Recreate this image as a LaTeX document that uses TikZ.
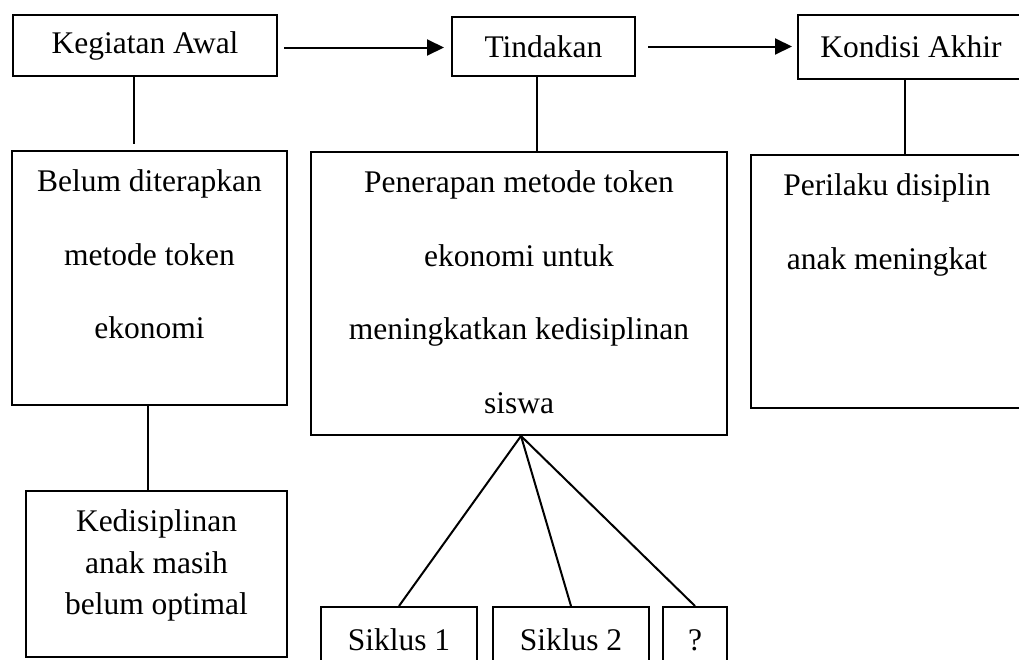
\documentclass[tikz,border=0pt]{standalone}
\usepackage{fontspec}
\setmainfont{Liberation Serif}
\usepackage{tikz}
\usetikzlibrary{arrows.meta,positioning}
\tikzset{
  kotak/.style={draw,line width=2pt,inner sep=0pt},
  isi/.style={anchor=north,align=center,inner sep=0pt},
  garis/.style={line width=2pt},
  panah/.style={line width=2pt,-{Triangle[length=17pt,width=16pt]}},
  every node/.style={font=\fontsize{31.5}{73.5}\selectfont}
}

\begin{document}
\begin{tikzpicture}[x=1pt,y=-1pt,line cap=butt,line join=miter]
  % ---- drawing window (pixel grid of the screenshot) ----
  \useasboundingbox (0,0) rectangle (1019,659);
  \clip (0,0) rectangle (1019,659);

  % ---- top row ----
  \node[kotak,minimum width=264,minimum height=61] (awal) at (145,45.5) {Kegiatan Awal};
  \node[kotak,minimum width=183,minimum height=59] (tindakan) at (543.5,46.5) {Tindakan};
  \node[kotak,minimum width=226,minimum height=64] (akhir) at (911,47) {Kondisi Akhir};

  % ---- middle row ----
  \node[kotak,minimum width=275,minimum height=254] (belum) at (149.5,278) {};
  \node[kotak,minimum width=416,minimum height=283] (penerapan) at (519,293.5) {};
  \node[kotak,minimum width=272,minimum height=253] (perilaku) at (887,281.5) {};

  \node[isi,below=19.5pt of belum.north] (tBelum)
    {Belum diterapkan\\metode token\\ekonomi};
  \node[isi,below=19.5pt of penerapan.north] (tPenerapan)
    {Penerapan metode token\\ekonomi untuk\\meningkatkan kedisiplinan\\siswa};
  \node[isi,below=19.5pt of perilaku.north] (tPerilaku)
    {Perilaku disiplin\\anak meningkat};

  % ---- bottom row ----
  \node[kotak,minimum width=261,minimum height=166] (kedis) at (156.5,574) {};
  \node[isi,below=19.5pt of kedis.north,font=\fontsize{31.5}{41.5}\selectfont] (tKedis)
    {Kedisiplinan\\anak masih\\belum optimal};

  \node[kotak,minimum width=156,minimum height=66] (s1) at (399,640) {Siklus 1};
  \node[kotak,minimum width=156,minimum height=66] (s2) at (571,640) {Siklus 2};
  \node[kotak,minimum width=64,minimum height=66] (tanya) at (695,640) {?};

  % ---- arrows between the stages ----
  \draw[panah,shorten <=6pt,shorten >=7pt] ([yshift=-2pt]awal.east) -- ([yshift=-2pt]awal.east -| tindakan.west);
  \draw[panah,shorten <=12pt,shorten >=5pt] (tindakan.east) -- (tindakan.east -| akhir.west);

  % ---- vertical links ----
  \coordinate (a1) at ([xshift=-11pt]awal.south);
  \coordinate (t1) at ([xshift=-6.5pt]tindakan.south);
  \coordinate (k1) at ([xshift=-6pt]akhir.south);
  \coordinate (b1) at ([xshift=-1.5pt]belum.south);
  \draw[garis,shorten >=6pt] (a1) -- (a1 |- belum.north);
  \draw[garis] (t1) -- (t1 |- penerapan.north);
  \draw[garis] (k1) -- (k1 |- perilaku.north);
  \draw[garis] (b1) -- (b1 |- kedis.north);

  % ---- fan to the cycles ----
  \foreach \s in {s1,s2,tanya}
    \draw[garis] ([xshift=2pt]penerapan.south) -- (\s.north);
\end{tikzpicture}
\end{document}
